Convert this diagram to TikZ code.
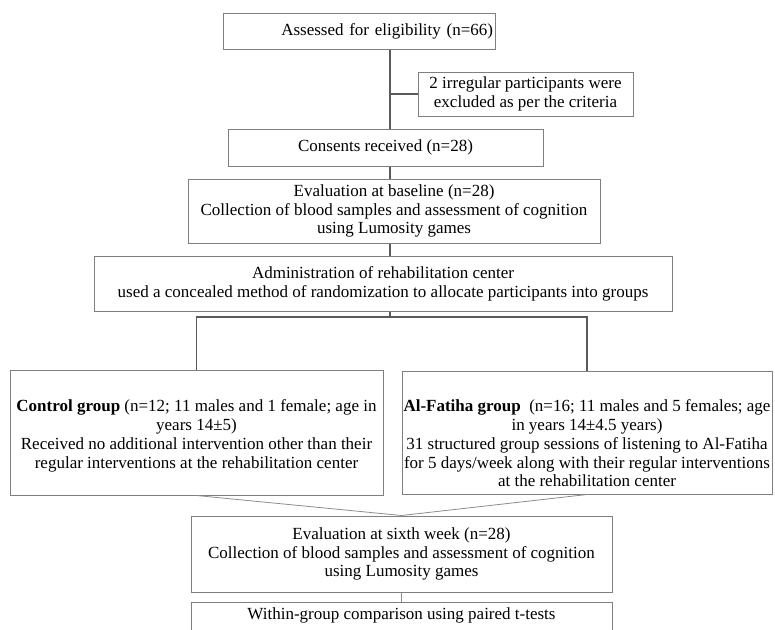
\documentclass[tikz,border=0pt]{standalone}
\usepackage{fontspec}
\setmainfont{Liberation Serif}
\usepackage{tikz}
\usetikzlibrary{calc}
\definecolor{frameGray}{HTML}{7F7F7F}
\definecolor{lineGray}{HTML}{5A5A5A}
\definecolor{mergeGray}{HTML}{8C8C8C}

\begin{document}
\begin{tikzpicture}[x=1pt, y=-1pt,
  font=\fontsize{17}{18.8}\selectfont,
  box/.style={rectangle,draw=frameGray,line width=1pt,align=center,inner sep=2pt},
  txt/.style={align=center,inner sep=0pt,anchor=north},
  link/.style={draw=lineGray,line width=1.2pt},
  merge/.style={draw=mergeGray,line width=0.8pt}]
\useasboundingbox (0,0) rectangle (775,629);
\clip (0,0) rectangle (775,629);
% enrolment
\node[box,minimum width=272,minimum height=36,text width=268,align=right] (assess) at (359,31)
  {Assessed for eligibility (n=66)};
\node[box,minimum width=215,minimum height=44] (excl) at (525.5,94)
  {2 irregular participants were\\excluded as per the criteria};
\node[box,minimum width=315,minimum height=37] (consent) at (385.5,147.5) {Consents received (n=28)};
\node[box,minimum width=412,minimum height=64] (base) at (394,211)
  {Evaluation at baseline (n=28)\\Collection of blood samples and assessment of cognition\\using Lumosity games};
\node[box,minimum width=578,minimum height=55] (admin) at (383,283.5)
  {Administration of rehabilitation center\\used a concealed method of randomization to allocate participants into groups};
% allocation
\node[box,minimum width=373,minimum height=125] (ctrl) at (196.5,432.5) {};
\node[box,minimum width=370,minimum height=123] (fatiha) at (587,432.5) {};
\node[txt] (ctrltxt) at ([yshift=-30pt]ctrl.north)
  {\textbf{Control group} (n=12; 11 males and 1 female; age in\\years 14±5)\\
   Received no additional intervention other than their\\regular interventions at the rehabilitation center};
\node[txt] (fatihatxt) at ([yshift=-30pt]ctrl.north -| fatiha.north)
  {\textbf{Al-Fatiha group}\ \ (n=16; 11 males and 5 females; age\\in years 14±4.5 years)\\
   31 structured group sessions of listening to Al-Fatiha\\for 5 days/week along with their regular interventions\\
   at the rehabilitation center};
% follow-up
\node[box,minimum width=421,minimum height=76] (sixth) at (401.5,554)
  {Evaluation at sixth week (n=28)\\Collection of blood samples and assessment of cognition\\using Lumosity games};
\node[box,anchor=north,minimum width=421,minimum height=46] (within) at (401.5,602) {};
\node[txt] (withintxt) at ([yshift=-5.5pt]within.north) {Within-group comparison using paired t-tests};
% connectors
\coordinate (spine) at (390,0);
\coordinate (split) at (390,317);
\draw[link] (assess.south -| spine) -- (consent.north -| spine);
\draw[link] (spine |- excl.west) -- (excl.west);
\draw[link] (consent.south -| spine) -- (base.north -| spine);
\draw[link] (base.south -| spine) -- (admin.north -| spine);
\draw[link] (admin.south -| spine) -- (split);
\draw[link] (ctrl.north) -- (ctrl.north |- split) -- (fatiha.north |- split) -- (fatiha.north);
\draw[merge] (ctrl.south) -- (sixth.north);
\draw[merge] (fatiha.south) -- (sixth.north);
\draw[merge] (sixth.south) -- (within.north);
\end{tikzpicture}
\end{document}
